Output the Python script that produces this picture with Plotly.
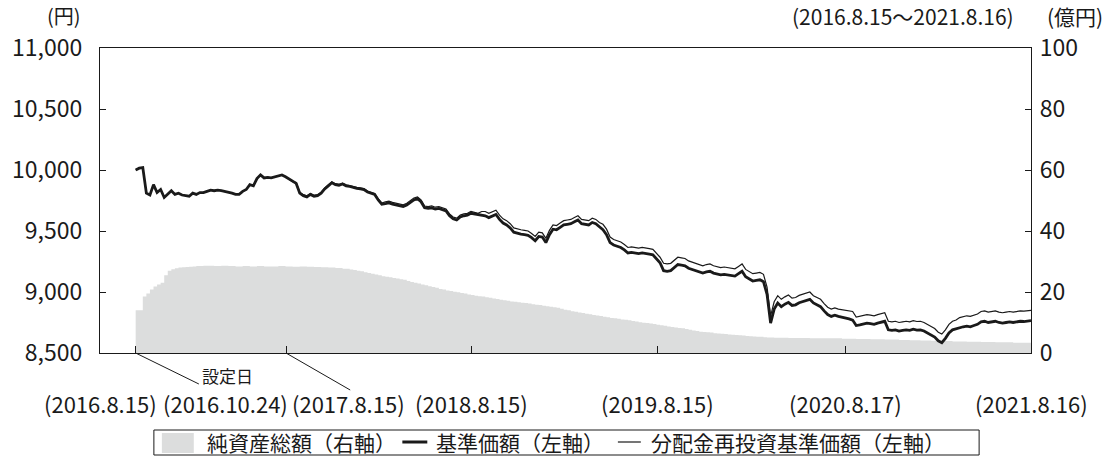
import pandas as pd
import plotly.graph_objects as go

# ---------------- data ----------------
dates = pd.date_range("2016-10-24", "2021-08-16", freq="7D")  # weekly, 252 points

base_price = [
    10000, 10015, 10020, 9810, 9795, 9880, 9815, 9840, 9775, 9805,
    9830, 9800, 9810, 9795, 9790, 9785, 9810, 9800, 9815, 9815,
    9825, 9835, 9830, 9835, 9830, 9825, 9815, 9810, 9800, 9800,
    9825, 9840, 9880, 9870, 9930, 9960, 9935, 9940, 9935, 9945,
    9950, 9960, 9945, 9925, 9905, 9890, 9810, 9790, 9780, 9800,
    9785, 9790, 9810, 9845, 9870, 9895, 9880, 9875, 9885, 9870,
    9865, 9855, 9850, 9845, 9840, 9820, 9810, 9800, 9755, 9720,
    9725, 9730, 9720, 9715, 9710, 9700, 9712, 9735, 9755, 9765,
    9740, 9690, 9685, 9690, 9680, 9685, 9675, 9665, 9625, 9600,
    9590, 9615, 9625, 9630, 9645, 9640, 9630, 9625, 9625, 9610,
    9620, 9635, 9595, 9565, 9550, 9525, 9490, 9480, 9475, 9470,
    9465, 9445, 9420, 9455, 9450, 9405, 9470, 9515, 9510, 9530,
    9550, 9555, 9560, 9575, 9590, 9560, 9555, 9550, 9570, 9560,
    9535, 9510, 9470, 9405, 9385, 9375, 9365, 9345, 9320, 9325,
    9320, 9315, 9320, 9312, 9310, 9305, 9275, 9240, 9175, 9170,
    9175, 9200, 9225, 9220, 9215, 9195, 9185, 9170, 9160, 9155,
    9165, 9170, 9155, 9150, 9140, 9145, 9140, 9135, 9130, 9150,
    9170, 9125, 9105, 9090, 9095, 9100, 9085, 8980, 8745, 8860,
    8910, 8880, 8900, 8915, 8890, 8895, 8912, 8920, 8930, 8940,
    8910, 8895, 8880, 8845, 8815, 8800, 8810, 8800, 8795, 8790,
    8780, 8770, 8725, 8730, 8735, 8745, 8740, 8735, 8745, 8755,
    8760, 8690, 8685, 8690, 8680, 8685, 8690, 8685, 8695, 8688,
    8690, 8680, 8665, 8645, 8630, 8600, 8585, 8620, 8665, 8690,
    8700, 8705, 8715, 8720, 8715, 8725, 8735, 8755, 8760, 8750,
    8755, 8760, 8750, 8745, 8750, 8755, 8750, 8755, 8760, 8758,
    8762, 8765,
]

reinvest_price = [
    10000, 10015, 10020, 9810, 9795, 9880, 9815, 9840, 9775, 9805,
    9830, 9800, 9810, 9795, 9790, 9785, 9810, 9800, 9815, 9815,
    9825, 9835, 9830, 9835, 9830, 9825, 9815, 9810, 9800, 9800,
    9825, 9840, 9880, 9870, 9930, 9960, 9935, 9940, 9935, 9945,
    9950, 9960, 9945, 9925, 9905, 9898, 9818, 9798, 9788, 9808,
    9793, 9798, 9818, 9853, 9878, 9903, 9888, 9883, 9893, 9878,
    9873, 9863, 9858, 9853, 9848, 9828, 9818, 9808, 9763, 9728,
    9740, 9745, 9735, 9730, 9725, 9715, 9727, 9750, 9770, 9780,
    9755, 9705, 9700, 9705, 9695, 9700, 9690, 9680, 9640, 9615,
    9605, 9630, 9640, 9645, 9660, 9655, 9645, 9660, 9660, 9645,
    9655, 9670, 9630, 9600, 9585, 9560, 9525, 9515, 9510, 9505,
    9500, 9480, 9455, 9490, 9485, 9440, 9505, 9550, 9545, 9565,
    9585, 9590, 9595, 9610, 9625, 9595, 9590, 9585, 9605, 9595,
    9570, 9555, 9515, 9450, 9430, 9420, 9410, 9390, 9365, 9370,
    9365, 9360, 9365, 9357, 9355, 9350, 9320, 9285, 9235, 9230,
    9235, 9260, 9285, 9280, 9275, 9255, 9245, 9230, 9220, 9215,
    9225, 9230, 9215, 9210, 9200, 9205, 9200, 9195, 9190, 9210,
    9230, 9185, 9165, 9150, 9155, 9160, 9145, 9040, 8805, 8920,
    8970, 8940, 8960, 8975, 8950, 8955, 8972, 8980, 8990, 9000,
    8970, 8955, 8940, 8905, 8875, 8860, 8870, 8860, 8855, 8850,
    8850, 8840, 8795, 8800, 8805, 8815, 8810, 8805, 8815, 8825,
    8830, 8760, 8755, 8760, 8750, 8755, 8760, 8755, 8765, 8758,
    8760, 8750, 8735, 8715, 8700, 8670, 8655, 8690, 8735, 8760,
    8770, 8790, 8800, 8805, 8800, 8810, 8820, 8840, 8845, 8835,
    8840, 8845, 8835, 8830, 8835, 8840, 8835, 8840, 8845, 8843,
    8847, 8850,
]

net_assets = [  # 億円
    14.0, 14.0, 18.5, 19.5, 20.8, 21.8, 22.5, 23.0, 25.5, 27.0,
    27.5, 27.8, 28.0, 28.1, 28.2, 28.3,
    28.4, 28.5, 28.5, 28.6, 28.6, 28.6, 28.5, 28.5, 28.6, 28.6, 28.5, 28.5, 28.4, 28.4, 28.5, 28.5,
    28.4, 28.4, 28.5, 28.5, 28.4, 28.4, 28.4, 28.4, 28.5, 28.5, 28.4, 28.4, 28.3, 28.3, 28.4, 28.4,
    28.3, 28.3, 28.2, 28.2, 28.1, 28.1, 28.0, 28.0,
    27.9, 27.9, 27.6, 27.6, 27.4,
    27.2, 27.0, 26.8, 26.5,
    26.2, 26.0, 25.7, 25.5,
    25.2, 25.0, 24.8, 24.6, 24.4, 24.2,
    24.0, 23.6, 23.3,
    23.0, 22.8, 22.5, 22.2, 21.9,
    21.6, 21.4, 21.0, 20.8, 20.5,
    20.3, 20.1, 19.9, 19.7, 19.5, 19.2, 19.0, 18.8, 18.6,
    18.5, 18.3, 18.1, 17.9, 17.7, 17.5, 17.3, 17.1, 16.9,
    16.8, 16.6, 16.5, 16.4, 16.2, 16.0, 15.8, 15.7, 15.5, 15.3,
    15.2, 15.0, 14.8, 14.5, 14.2, 14.0, 13.7, 13.5, 13.3,
    13.1, 12.9, 12.7, 12.5, 12.3, 12.1, 11.9, 11.7, 11.5,
    11.4, 11.2, 11.0, 10.9, 10.7, 10.5, 10.3, 10.1, 9.9, 9.8,
    9.7, 9.5, 9.3, 9.1, 8.9, 8.7, 8.5, 8.4, 8.2,
    8.1, 7.9, 7.6, 7.4, 7.2,
    7.0, 6.9, 6.8, 6.7, 6.5, 6.4, 6.3, 6.2, 6.1, 6.0,
    5.9, 5.8, 5.7, 5.6, 5.5, 5.4, 5.3, 5.3, 5.2,
    5.1, 5.1, 5.0, 5.0, 5.0, 5.0, 4.9, 4.9, 4.9, 4.9, 4.9, 4.9, 4.8, 4.8, 4.8, 4.8, 4.8, 4.8, 4.8,
    4.8, 4.8, 4.7, 4.7, 4.7, 4.7, 4.6, 4.6, 4.6, 4.6, 4.5, 4.5, 4.5, 4.5, 4.4, 4.4, 4.4, 4.4,
    4.3, 4.3, 4.3, 4.2, 4.2, 4.2, 4.1, 4.1, 4.1, 4.0, 4.0, 4.0, 3.9, 3.9, 3.9, 3.8, 3.8, 3.8, 3.8,
    3.7, 3.7, 3.7, 3.7, 3.6, 3.6, 3.6, 3.6, 3.5, 3.5, 3.5, 3.5, 3.5, 3.4, 3.4, 3.4, 3.4, 3.4, 3.4,
]

left_ticks = [8500, 9000, 9500, 10000, 10500, 11000]
right_ticks = [0, 20, 40, 60, 80, 100]
x_tick_dates = ["2016-10-24", "2017-08-15", "2018-08-15", "2019-08-15", "2020-08-17"]
x_labels = [
    ("(2016.8.15)", "2016-08-15"),
    ("(2018.8.15)", "2018-08-15"),
    ("(2019.8.15)", "2019-08-15"),
    ("(2020.8.17)", "2020-08-17"),
    ("(2021.8.16)", "2021-08-16"),
]
legend_labels = ["純資産総額（右軸）", "基準価額（左軸）", "分配金再投資基準価額（左軸）"]

# ---------------- layout helpers ----------------
W, H = 1107, 456
L, R, T, B = 98, 1031, 48, 353
PW, PH = R - L, B - T


def px(x):
    return (x - L) / PW


def py(y):
    return (B - y) / PH


FONT = "Noto Sans CJK JP"
GREY = "#dcdddd"
INK = "#1a1a1a"
NUM = 23
DATE = 22
LEGF = 21

fig = go.Figure()
fig.add_trace(go.Scatter(
    x=dates, y=net_assets, yaxis="y", mode="lines", fill="tozeroy",
    fillcolor=GREY, line=dict(width=0, shape="hv", color=GREY),
    name=legend_labels[0], showlegend=False, hoverinfo="skip"))
fig.add_trace(go.Scatter(
    x=dates, y=reinvest_price, yaxis="y2", mode="lines",
    line=dict(color=INK, width=1.2), name=legend_labels[2], showlegend=False))
fig.add_trace(go.Scatter(
    x=dates, y=base_price, yaxis="y2", mode="lines",
    line=dict(color=INK, width=2.8), name=legend_labels[1], showlegend=False))

axis_common = dict(showgrid=False, zeroline=False, showline=True,
                   linecolor=INK, linewidth=1.3, ticks="inside",
                   tickcolor=INK, tickwidth=1.2)

fig.update_layout(
    width=W, height=H,
    margin=dict(l=L, r=W - R, t=T, b=H - B),
    paper_bgcolor="white", plot_bgcolor="white",
    font=dict(family=FONT, color=INK, size=NUM),
    xaxis=dict(type="date", range=["2016-08-15", "2021-08-16"],
               tickvals=x_tick_dates, showticklabels=False, ticklen=7,
               mirror=True, **axis_common),
    yaxis=dict(side="right", range=[0, 100], tickvals=right_ticks,
               ticklen=6, tickfont=dict(size=NUM, family=FONT, color=INK),
               ticklabelstandoff=3, **axis_common),
    yaxis2=dict(side="left", overlaying="y", range=[8500, 11000],
                tickvals=left_ticks, tickformat=",", ticklen=6,
                tickfont=dict(size=NUM, family=FONT, color=INK),
                ticklabelstandoff=12, **axis_common),
    showlegend=False,
)

ann = []
# unit / period labels
ann.append(dict(text="(円)", x=px(62), y=py(15), xref="paper", yref="paper",
                xanchor="center", yanchor="middle", showarrow=False, font=dict(size=20)))
ann.append(dict(text="(2016.8.15～2021.8.16)", x=px(1016), y=py(16), xref="paper", yref="paper",
                xanchor="right", yanchor="middle", showarrow=False, font=dict(size=21)))
ann.append(dict(text="(億円)", x=px(1045), y=py(16), xref="paper", yref="paper",
                xanchor="left", yanchor="middle", showarrow=False, font=dict(size=21)))
# date labels under axis
for txt, d in x_labels:
    ann.append(dict(text=txt, x=d, y=py(403), xref="x", yref="paper",
                    xanchor="center", yanchor="middle", showarrow=False, font=dict(size=DATE)))
ann.append(dict(text="(2016.10.24)", x=px(224), y=py(403), xref="paper", yref="paper",
                xanchor="center", yanchor="middle", showarrow=False, font=dict(size=DATE)))
ann.append(dict(text="(2017.8.15)", x=px(347), y=py(403), xref="paper", yref="paper",
                xanchor="center", yanchor="middle", showarrow=False, font=dict(size=DATE)))
ann.append(dict(text="設定日", x=px(226), y=py(375), xref="paper", yref="paper",
                xanchor="center", yanchor="middle", showarrow=False, font=dict(size=17)))

shapes = []
# leader lines
shapes.append(dict(type="line", xref="x", yref="paper", x0="2016-10-24", x1="2017-02-25",
                   y0=0, y1=py(384), line=dict(color=INK, width=1)))
shapes.append(dict(type="line", xref="x", yref="paper", x0="2017-08-15", x1="2017-12-19",
                   y0=0, y1=py(390), line=dict(color=INK, width=1)))

# legend (drawn manually)
LEG_Y = 442
shapes.append(dict(type="rect", xref="paper", yref="paper", x0=px(152), x1=px(979),
                   y0=py(455), y1=py(430), line=dict(color=INK, width=1), fillcolor="rgba(0,0,0,0)"))
shapes.append(dict(type="rect", xref="paper", yref="paper", x0=px(160), x1=px(192),
                   y0=py(453), y1=py(433), line=dict(width=0), fillcolor=GREY))
shapes.append(dict(type="line", xref="paper", yref="paper", x0=px(401), x1=px(426),
                   y0=py(LEG_Y), y1=py(LEG_Y), line=dict(color=INK, width=3)))
shapes.append(dict(type="line", xref="paper", yref="paper", x0=px(617), x1=px(640),
                   y0=py(LEG_Y), y1=py(LEG_Y), line=dict(color=INK, width=1.2)))
for txt, x0 in zip(legend_labels, [203, 433, 648]):
    ann.append(dict(text=txt, x=px(x0), y=py(LEG_Y), xref="paper", yref="paper",
                    xanchor="left", yanchor="middle", showarrow=False, font=dict(size=LEGF)))

fig.update_layout(annotations=ann, shapes=shapes)
fig.write_html("out.html", config={"displayModeBar": False},
               post_script="document.body.style.margin='0px';")
